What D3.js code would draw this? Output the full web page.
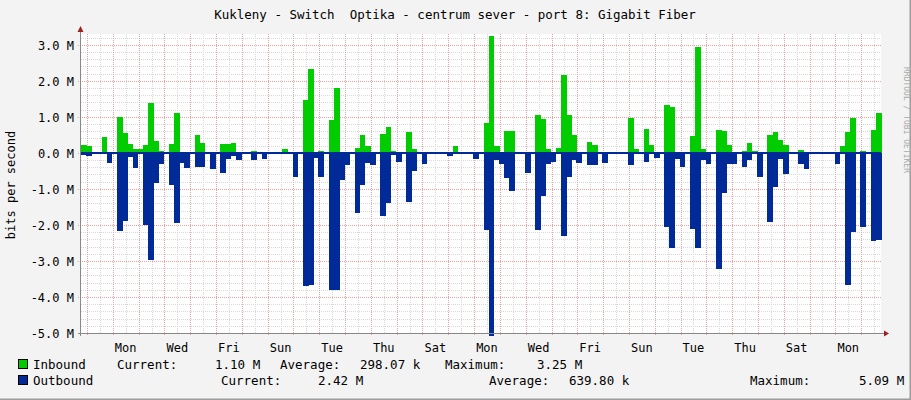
<!DOCTYPE html>
<html><head><meta charset="utf-8">
<script src="https://cdn.jsdelivr.net/npm/d3@7"></script>
<style>body{margin:0;background:#f3f3f3}svg{display:block}</style>
</head><body><svg id="g" width="911" height="400"></svg>
<script>
// values in Mbit/s, one sample per ~4.8 h
var inbound = [
  .22,.2,0,0,.43,0,0,1.0,.55,.25,
  .11,.11,.22,1.39,.33,.04,0,.25,1.1,.03,
  0,0,.49,.28,0,.03,0,.25,.25,.27,
  0,0,0,.06,0,0,0,0,0,.11,
  0,0,0,1.47,2.33,.02,.06,0,.92,1.8,
  .03,.03,0,.14,.5,.19,0,0,.53,.72,
  .06,0,0,.58,.11,0,0,0,0,0,
  0,0,.19,0,0,.03,0,0,.83,3.25,
  .19,0,.61,.61,0,.03,0,0,1.06,.94,
  .11,.03,.14,2.17,1.06,.5,0,0,.31,.22,
  0,0,0,0,0,.03,.97,.11,.03,.67,
  .22,0,0,1.33,1.28,0,.03,0,.47,2.94,
  .11,.03,0,.64,.61,.22,0,0,.06,.28,
  .06,.03,0,.5,.58,.36,.22,0,0,.08,
  .03,.03,0,0,0,0,0,.19,.58,.97,
  0,.06,0,.64,1.1
];
var outbound = [
  .06,.1,0,0,0,.27,0,2.16,1.88,.12,
  .43,0,2.0,2.97,.84,.32,0,.9,1.96,.27,
  .43,0,.4,.4,0,.46,0,.55,.16,.1,
  .2,0,0,.19,0,.16,0,0,0,0,
  0,.66,0,3.7,3.67,.13,.66,0,3.8,3.82,
  .74,.35,0,1.66,.9,.27,.35,0,1.74,1.38,
  .05,.24,0,1.35,.49,0,.32,0,0,0,
  0,.1,0,0,0,0,.16,0,2.13,5.09,
  .19,.3,.69,1.07,0,0,.55,0,2.14,1.19,
  .3,.24,0,2.32,.66,.19,.27,0,.35,.35,
  0,.27,0,0,0,0,.35,0,0,.24,
  0,.13,0,2.07,2.63,.16,.38,0,2.11,2.63,
  .21,.3,0,3.21,1.1,.32,.32,0,.38,.19,
  0,.66,0,1.91,.94,.16,.6,0,0,.3,
  .46,0,0,0,0,0,.3,0,3.66,2.2,
  0,2.05,0,2.44,2.42
];
var dayLabels = ["Mon","Wed","Fri","Sun","Tue","Thu","Sat","Mon","Wed","Fri","Sun","Tue","Thu","Sat","Mon"];
var yTicks = [3,2,1,0,-1,-2,-3,-4,-5];
var firstMidnight = 1.16, perDay = 5;

var svg = d3.select("#g");
var font = "DejaVu Sans Mono, monospace";
var x = d3.scaleLinear().domain([0, inbound.length]).range([81, 881]);
var y = d3.scaleLinear().domain([-5, 3.3]).range([333, 34]);

svg.append("rect").attr("x",0).attr("y",0).attr("width",911).attr("height",400).attr("fill","#f3f3f3");
svg.append("rect").attr("x",81).attr("y",34).attr("width",800).attr("height",299).attr("fill","#fff");
// 3d frame
svg.append("path").attr("d","M0,399.5H910.5V0").attr("fill","none").attr("stroke","#9c9c9c").attr("stroke-width",2);

// minor horizontal grid
d3.range(-25, 17).forEach(function (k) {
  var v = k/5;
  if (k % 5 == 0) return;
  svg.append("line").attr("x1",81).attr("x2",881).attr("y1",Math.round(y(v))+.5).attr("y2",Math.round(y(v))+.5)
    .attr("stroke","#d8d8d8").attr("stroke-dasharray","1,1");
});
// vertical grid
var days = d3.range(0, 31);
days.forEach(function (d) {
  var mx = Math.round(x(firstMidnight + d*perDay))+.5;
  var nx = Math.round(x(firstMidnight + d*perDay + perDay/2))+.5;
  if (nx < 881) svg.append("line").attr("x1",nx).attr("x2",nx).attr("y1",34).attr("y2",333).attr("stroke","#d8d8d8").attr("stroke-dasharray","1,1");
  if (mx < 881) svg.append("line").attr("x1",mx).attr("x2",mx).attr("y1",34).attr("y2",336).attr("stroke","#e8a0a0").attr("stroke-dasharray","1,1");
});
yTicks.forEach(function (v) {
  var yy = Math.round(y(v))+.5;
  svg.append("line").attr("x1",78).attr("x2",881).attr("y1",yy).attr("y2",yy).attr("stroke","#e8a0a0").attr("stroke-dasharray","1,1");
  svg.append("text").attr("x",74).attr("y",yy+4).attr("text-anchor","end").attr("font-family",font).attr("font-size",12)
    .attr("fill","#000").text(v.toFixed(1)+" M");
});

var bw = x(1) - x(0);
svg.selectAll("rect.in").data(inbound).enter().append("rect").attr("class","in")
  .attr("x", function (d,i) {return x(i);}).attr("width", bw+.5)
  .attr("y", function (d) {return y(d);}).attr("height", function (d) {return y(0)-y(d);})
  .attr("fill","#00cc00").attr("shape-rendering","crispEdges");
svg.selectAll("rect.out").data(outbound).enter().append("rect").attr("class","out")
  .attr("x", function (d,i) {return x(i);}).attr("width", bw+.5)
  .attr("y", y(0)).attr("height", function (d) {return y(-d)-y(0);})
  .attr("fill","#002a97").attr("shape-rendering","crispEdges");
svg.append("line").attr("x1",81).attr("x2",881).attr("y1",y(0)).attr("y2",y(0)).attr("stroke","#002a97").attr("stroke-width",2);

// axes
svg.append("line").attr("x1",80.5).attr("x2",80.5).attr("y1",30).attr("y2",336).attr("stroke","#888");
svg.append("line").attr("x1",78).attr("x2",884).attr("y1",333.5).attr("y2",333.5).attr("stroke","#888");
svg.append("path").attr("d","M884,330.5L889,333.5L884,336.5Z").attr("fill","#a02020");
svg.append("path").attr("d","M77.5,32L80.5,26L83.5,32Z").attr("fill","#a02020");

dayLabels.forEach(function (t, k) {
  svg.append("text").attr("x", x(firstMidnight + (2*k+1)*perDay + perDay/2)).attr("y",352)
    .attr("text-anchor","middle").attr("font-family",font).attr("font-size",12).text(t);
});

svg.append("text").attr("x",455).attr("y",19).attr("text-anchor","middle").attr("font-family",font).attr("font-size",12.5)
  .text("Kukleny - Switch  Optika - centrum sever - port 8: Gigabit Fiber").style("white-space","pre");
svg.append("text").attr("transform","translate(15,185) rotate(-90)").attr("text-anchor","middle").attr("font-family",font)
  .attr("font-size",12).text("bits per second");
svg.append("text").attr("transform","translate(904,120) rotate(90)").attr("text-anchor","middle").attr("font-family",font)
  .attr("font-size",8).attr("fill","#aaa").text("RRDTOOL / TOBI OETIKER");

// legend
var legend = [
  {color:"#00cc00", y:368, items:[[33,"Inbound"],[117,"Current:"],[215,"1.10 M"],[280,"Average:"],[360,"298.07 k"],[445,"Maximum:"],[537,"3.25 M"]]},
  {color:"#002a97", y:384, items:[[33,"Outbound"],[221,"Current:"],[318,"2.42 M"],[489,"Average:"],[569,"639.80 k"],[750,"Maximum:"],[859,"5.09 M"]]}
];
legend.forEach(function (row) {
  svg.append("rect").attr("x",18.5).attr("y",row.y-8.5).attr("width",9).attr("height",9).attr("fill",row.color).attr("stroke","#000");
  row.items.forEach(function (it) {
    svg.append("text").attr("x",it[0]).attr("y",row.y+1).attr("font-family",font).attr("font-size",12.5).text(it[1]);
  });
});
</script></body></html>
